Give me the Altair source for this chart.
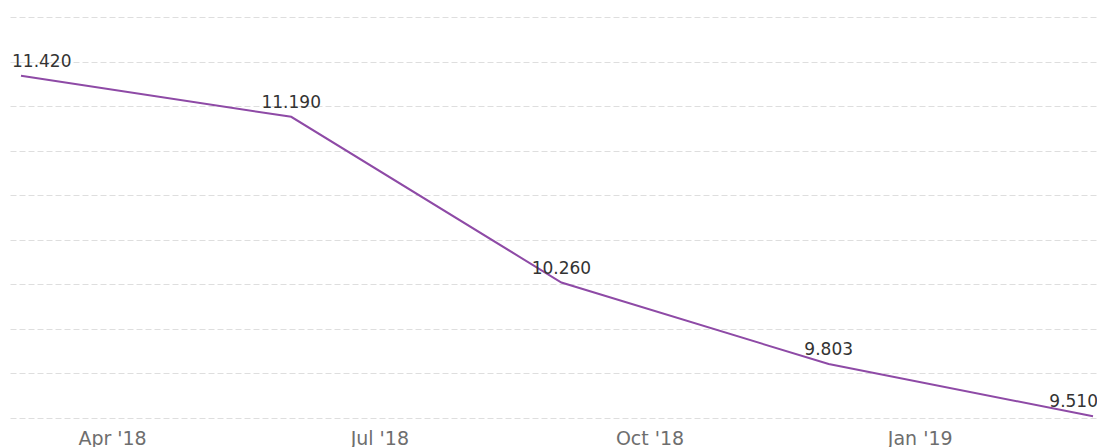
import altair as alt
import pandas as pd

dates = ["2018-03-01", "2018-06-01", "2018-09-01", "2018-12-01", "2019-03-01"]
values = [11.420, 11.190, 10.260, 9.803, 9.510]
labels = ["11.420", "11.190", "10.260", "9.803", "9.510"]
y_ticks = [9.5, 9.75, 10.0, 10.25, 10.5, 10.75, 11.0, 11.25, 11.5, 11.75]
x_ticks = [(2018, 4), (2018, 7), (2018, 10), (2019, 1)]

df = pd.DataFrame({"date": dates, "value": values, "label": labels,
                   "idx": list(range(len(dates)))})

xscale = alt.Scale(
    type="utc",
    domain=[alt.DateTime(year=2018, month=2, date=25, hours=6, minutes=7, utc=True),
            alt.DateTime(year=2019, month=3, date=2, hours=8, minutes=40, utc=True)],
)
yscale = alt.Scale(domain=[9.5, 11.75], nice=False, zero=False)

x_enc = alt.X(
    "date:T", scale=xscale, title=None,
    axis=alt.Axis(
        values=[alt.DateTime(year=y, month=m, date=1, utc=True) for y, m in x_ticks],
        format="%b '%y", grid=False, ticks=False, domain=False,
        labelFont="DejaVu Sans", labelFontSize=19, labelColor="#6e6e6e",
        labelPadding=11, labelFlush=False,
    ),
)
y_enc = alt.Y(
    "value:Q", scale=yscale, title=None,
    axis=alt.Axis(values=y_ticks, labels=False, ticks=False, domain=False,
                  grid=True, gridColor="#dedede", gridDash=[6, 3], gridWidth=1),
)

base = alt.Chart(df)
line = base.mark_line(color="#8e4aa6", strokeWidth=2).encode(x=x_enc, y=y_enc)

text_style = dict(font="DejaVu Sans", fontSize=17, color="#333333", baseline="alphabetic", dy=-9)
xe = alt.X("date:T", scale=xscale)
ye = alt.Y("value:Q", scale=yscale)
t_first = base.transform_filter("datum.idx == 0").mark_text(align="left", dx=-9, **text_style).encode(
    x=xe, y=ye, text="label:N")
t_mid = base.transform_filter("datum.idx > 0 && datum.idx < 4").mark_text(align="center", **text_style).encode(
    x=xe, y=ye, text="label:N")
t_last = base.transform_filter("datum.idx == 4").mark_text(align="right", dx=5, **text_style).encode(
    x=xe, y=ye, text="label:N")

chart = (line + t_first + t_mid + t_last).properties(
    width=1087, height=401,
    background="white",
    autosize=alt.AutoSizeParams(type="none"),
    padding={"left": 2, "top": 9, "right": 0, "bottom": 30},
).configure_view(stroke="transparent", strokeWidth=0)

chart.save("out.html", embed_options={"renderer": "svg", "actions": False})
